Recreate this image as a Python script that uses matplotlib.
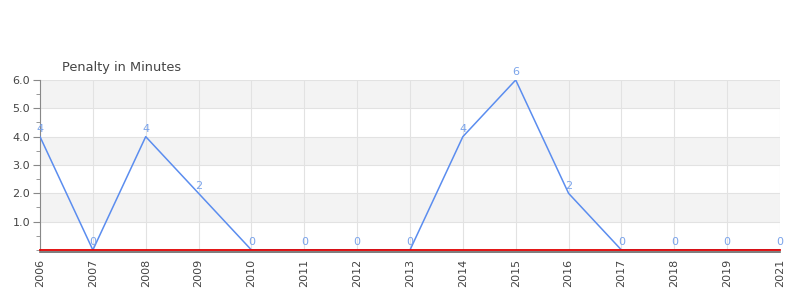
import matplotlib.pyplot as plt
from matplotlib.ticker import MultipleLocator

# Saisons und Strafminuten
years = ["2006", "2007", "2008", "2009", "2010", "2011", "2012", "2013",
         "2014", "2015", "2016", "2017", "2018", "2019", "2021"]
penalty = [4, 0, 4, 2, 0, 0, 0, 0, 4, 6, 2, 0, 0, 0, 0]

fig = plt.figure(figsize=(8, 3), dpi=100)
ax = fig.add_axes([0.05, 0.1667, 0.925, 0.5667])

# Achsenlinien zuerst (set_position setzt sonst die Ticks zurück)
for s in ["top", "right"]:
    ax.spines[s].set_visible(False)
ax.spines["left"].set_color("#888888")
ax.spines["bottom"].set_color("#666666")
ax.spines["bottom"].set_linewidth(1.2)
ax.spines["bottom"].set_position(("outward", 1.2))

x = list(range(len(years)))
ax.set_xlim(0, len(years) - 1)
ax.set_ylim(0, 6)

# abwechselnde Hintergrundbänder
for lo in range(0, 6):
    if lo % 2 == 1:
        ax.axhspan(lo, lo + 1, color="#f3f3f3", zorder=0, lw=0)

ax.grid(True, color="#e2e2e2", lw=0.8, zorder=1)
ax.set_axisbelow(True)

ax.plot(x, penalty, color="#5b8def", lw=1.1, zorder=3)
ax.axhline(0, color="#e00000", lw=1.3, zorder=4, clip_on=False)

for xi, v in zip(x, penalty):
    ax.annotate(str(v), (xi, v), xytext=(0, 2), textcoords="offset points",
                ha="center", va="bottom", fontsize=8, color="#7aa3ea", zorder=5)

ax.set_xticks(x)
ax.set_xticklabels(years, rotation=90, fontsize=8, color="#444444")
ax.yaxis.set_minor_locator(MultipleLocator(0.5))
ax.set_yticks([1, 2, 3, 4, 5, 6])
ax.set_yticklabels(["1.0", "2.0", "3.0", "4.0", "5.0", "6.0"], fontsize=8, color="#444444")

ax.tick_params(axis="y", which="major", length=5, color="#888888", pad=2)
ax.tick_params(axis="y", which="minor", length=3, color="#888888")
ax.tick_params(axis="x", length=0, pad=5)

fig.text(62 / 800, 1 - 67 / 300, "Penalty in Minutes", fontsize=9.3,
         color="#444444", ha="left", va="center")

fig.savefig("out.png", dpi=100)
